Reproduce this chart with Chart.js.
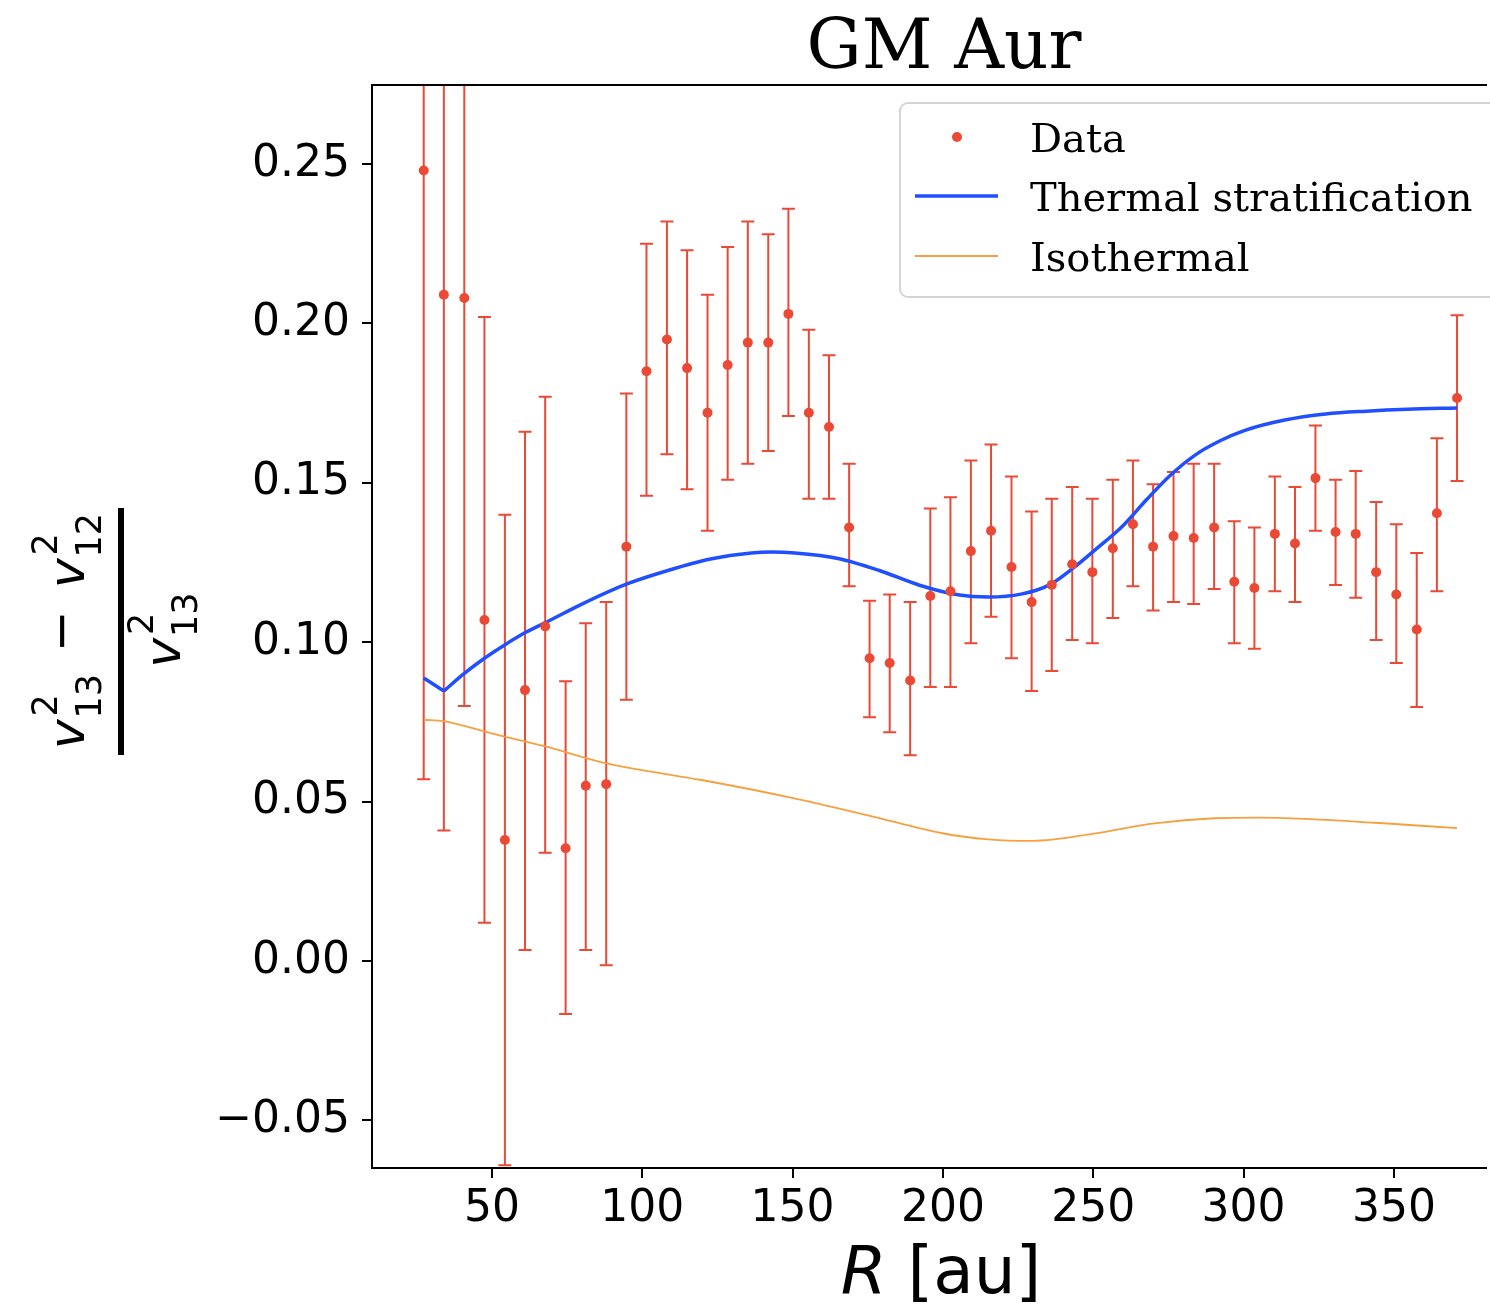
<!DOCTYPE html>
<html>
<head>
<meta charset="utf-8">
<script src="https://cdn.jsdelivr.net/npm/chart.js@4.4.0/dist/chart.umd.min.js"></script>
<style>
html, body { margin: 0; padding: 0; overflow: hidden; background: #fff; }
</style>
</head>
<body>
<canvas id="chart" width="1490" height="1312"></canvas>
<script>
// measured points (R in au) with lower / upper error bounds
const radius = [27.3, 34.0, 40.8, 47.5, 54.3, 61.0, 67.7, 74.5, 81.2, 88.0, 94.7, 101.4, 108.2, 114.9, 121.7, 128.4, 135.1, 141.9, 148.6, 155.4, 162.1, 168.8, 175.6, 182.3, 189.1, 195.8, 202.5, 209.3, 216.0, 222.8, 229.5, 236.2, 243.0, 249.7, 256.5, 263.2, 269.9, 276.7, 283.4, 290.2, 296.9, 303.6, 310.4, 317.1, 323.9, 330.6, 337.3, 344.1, 350.8, 357.6, 364.3, 371.0];
const ratio = [0.248, 0.209, 0.208, 0.107, 0.038, 0.085, 0.105, 0.0354, 0.055, 0.0555, 0.130, 0.185, 0.195, 0.186, 0.172, 0.187, 0.194, 0.194, 0.203, 0.172, 0.1675, 0.136, 0.095, 0.0935, 0.088, 0.1145, 0.116, 0.1286, 0.135, 0.1236, 0.1126, 0.118, 0.1245, 0.122, 0.1295, 0.137, 0.130, 0.1333, 0.1327, 0.136, 0.119, 0.117, 0.134, 0.131, 0.1515, 0.1346, 0.134, 0.122, 0.115, 0.104, 0.1405, 0.1766];
const ratioLow = [0.057, 0.041, 0.080, 0.012, -0.064, 0.0035, 0.034, -0.0166, 0.0035, -0.0013, 0.082, 0.146, 0.159, 0.148, 0.135, 0.151, 0.156, 0.160, 0.171, 0.145, 0.145, 0.1176, 0.0765, 0.0718, 0.0646, 0.086, 0.086, 0.0997, 0.108, 0.095, 0.0847, 0.091, 0.1007, 0.0997, 0.1076, 0.1176, 0.110, 0.1126, 0.112, 0.1167, 0.0997, 0.098, 0.116, 0.1126, 0.135, 0.118, 0.114, 0.1007, 0.0935, 0.0797, 0.116, 0.1506];
const ratioHigh = [0.440, 0.377, 0.336, 0.202, 0.140, 0.166, 0.177, 0.0878, 0.106, 0.1126, 0.178, 0.225, 0.232, 0.223, 0.209, 0.224, 0.232, 0.228, 0.236, 0.198, 0.190, 0.156, 0.113, 0.115, 0.1126, 0.142, 0.1455, 0.157, 0.162, 0.152, 0.141, 0.145, 0.1487, 0.145, 0.151, 0.157, 0.1496, 0.1534, 0.156, 0.156, 0.138, 0.136, 0.152, 0.1487, 0.168, 0.151, 0.1537, 0.144, 0.137, 0.128, 0.164, 0.2026];

// model curves (inner straight piece of the thermal curve kept apart so the kink stays sharp)
const thermalInnerR = [27.3, 34.0];
const thermalInnerV = [0.0888, 0.0847];
const thermalR = [34.0, 40.9, 47.5, 54.1, 61.4, 68.0, 81.3, 94.9, 108.8, 122.7, 136.3, 142.9, 150.8, 165.1, 178.6, 192.2, 205.5, 215.1, 226.0, 235.6, 243.5, 251.5, 259.8, 267.7, 276.0, 284.0, 292.2, 300.2, 313.7, 327.3, 340.9, 354.5, 371.0];
const thermalV = [0.0847, 0.0903, 0.0950, 0.0991, 0.1032, 0.1063, 0.1126, 0.1183, 0.1226, 0.1261, 0.1280, 0.1283, 0.1280, 0.1263, 0.1226, 0.1179, 0.1148, 0.1142, 0.1151, 0.1181, 0.1234, 0.1297, 0.1365, 0.1447, 0.1527, 0.1588, 0.1632, 0.1664, 0.1697, 0.1716, 0.1725, 0.1731, 0.1735];
const isoR = [27.3, 33.9, 49.5, 67.5, 87.6, 99.5, 119.7, 149.8, 174.7, 199.8, 215.1, 230.0, 250.2, 270.4, 290.2, 305.1, 320.4, 350.2, 371.0];
const isoV = [0.0757, 0.0753, 0.0715, 0.0674, 0.0621, 0.0600, 0.0568, 0.0512, 0.0458, 0.0401, 0.0382, 0.0377, 0.0400, 0.0432, 0.0448, 0.0450, 0.0446, 0.0430, 0.0417];

const xTicks = [50, 100, 150, 200, 250, 300, 350];
const yTicks = [-0.05, 0, 0.05, 0.10, 0.15, 0.20, 0.25];

const dataRed = '#ea4a35';
const thermalBlue = '#1f4fff';
const isoOrange = '#f7a040';

const pairs = (xs, ys) => xs.map((x, i) => ({x: x, y: ys[i]}));

const errorBars = {
    id: 'errorBars',
    beforeDatasetsDraw(chart) {
        const {ctx, chartArea: a, scales: {x, y}} = chart;
        ctx.save();
        ctx.beginPath();
        ctx.rect(a.left, a.top, a.right - a.left, a.bottom - a.top);
        ctx.clip();
        ctx.strokeStyle = dataRed;
        ctx.lineWidth = 2;
        radius.forEach((r, i) => {
            const px = x.getPixelForValue(r);
            const top = y.getPixelForValue(ratioHigh[i]);
            const bot = y.getPixelForValue(ratioLow[i]);
            ctx.beginPath();
            ctx.moveTo(px, top); ctx.lineTo(px, bot);
            ctx.moveTo(px - 6.5, top); ctx.lineTo(px + 6.5, top);
            ctx.moveTo(px - 6.5, bot); ctx.lineTo(px + 6.5, bot);
            ctx.stroke();
        });
        ctx.restore();
    }
};

// v with subscript and superscript, returns width used
function vTerm(ctx, x, base, sub) {
    ctx.font = 'italic 50px "DejaVu Sans"';
    ctx.fillText('v', x, base);
    const wv = ctx.measureText('v').width;
    ctx.font = '35px "DejaVu Sans"';
    ctx.fillText(sub, x + wv + 1, base + 17);
    ctx.fillText('2', x + wv + 3, base - 27);
    return wv + 1 + ctx.measureText(sub).width;
}

function termWidth(ctx, sub) {
    ctx.font = 'italic 50px "DejaVu Sans"';
    const wv = ctx.measureText('v').width;
    ctx.font = '35px "DejaVu Sans"';
    return wv + 1 + ctx.measureText(sub).width;
}

const decorations = {
    id: 'decorations',
    afterDraw(chart) {
        const {ctx, chartArea: a} = chart;
        ctx.save();
        // spines (right one lies outside the picture)
        ctx.strokeStyle = '#000';
        ctx.lineWidth = 2;
        ctx.beginPath();
        ctx.moveTo(a.right + 2, a.top);
        ctx.lineTo(a.left, a.top);
        ctx.lineTo(a.left, a.bottom);
        ctx.lineTo(a.right + 2, a.bottom);
        ctx.stroke();

        ctx.fillStyle = '#000';
        ctx.textBaseline = 'alphabetic';

        // title
        ctx.textAlign = 'center';
        ctx.font = '69px "DejaVu Serif"';
        ctx.fillText('GM Aur', 944, 68);

        // x axis title
        ctx.textAlign = 'left';
        ctx.font = 'italic 66px "DejaVu Sans"';
        const wR = ctx.measureText('R').width;
        ctx.font = '66px "DejaVu Sans"';
        const wRest = ctx.measureText(' [au]').width;
        const sx = 941 - (wR + wRest) / 2;
        ctx.font = 'italic 66px "DejaVu Sans"';
        ctx.fillText('R', sx, 1293);
        ctx.font = '66px "DejaVu Sans"';
        ctx.fillText(' [au]', sx + wR, 1293);

        // y axis title as fraction, rotated
        ctx.save();
        ctx.translate(121, 632);
        ctx.rotate(-Math.PI / 2);
        ctx.fillRect(-123, -3, 247, 6);
        const t1 = termWidth(ctx, '13'), t2 = termWidth(ctx, '12');
        ctx.font = '50px "DejaVu Sans"';
        const wm = ctx.measureText('\u2212').width;
        const gap = 22;
        const total = t1 + gap + wm + gap + t2;
        let nx = 1 - total / 2;
        nx += vTerm(ctx, nx, -37, '13') + gap;
        ctx.font = '50px "DejaVu Sans"';
        ctx.fillText('\u2212', nx, -43);
        nx += wm + gap;
        vTerm(ctx, nx, -37, '12');
        vTerm(ctx, 2 - t1 / 2, 59, '13');
        ctx.restore();

        // legend (runs past the right edge, as in the figure)
        ctx.beginPath();
        ctx.roundRect(900, 103, 620, 194, 8);
        ctx.fillStyle = 'rgba(255,255,255,0.85)';
        ctx.fill();
        ctx.strokeStyle = '#d4d4d4';
        ctx.lineWidth = 2;
        ctx.stroke();
        const ds = chart.data.datasets;
        ctx.font = '40px "DejaVu Serif"';
        ctx.fillStyle = '#000';
        ctx.fillText(ds[0].label, 1030, 152);
        ctx.fillText(ds[1].label, 1030, 211);
        ctx.fillText(ds[3].label, 1030, 271);
        ctx.fillStyle = dataRed;
        ctx.beginPath();
        ctx.arc(957, 137, 5, 0, Math.PI * 2);
        ctx.fill();
        ctx.strokeStyle = thermalBlue;
        ctx.lineWidth = 3.5;
        ctx.beginPath(); ctx.moveTo(915, 196); ctx.lineTo(998, 196); ctx.stroke();
        ctx.strokeStyle = isoOrange;
        ctx.lineWidth = 1.8;
        ctx.beginPath(); ctx.moveTo(915, 256); ctx.lineTo(998, 256); ctx.stroke();
        ctx.restore();
    }
};

const axisFont = {family: 'DejaVu Sans', size: 44};

new Chart(document.getElementById('chart').getContext('2d'), {
    type: 'scatter',
    data: {
        datasets: [{
            label: 'Data',
            data: pairs(radius, ratio),
            backgroundColor: dataRed,
            borderColor: dataRed,
            pointRadius: 5,
            pointBorderWidth: 0,
            order: 0
        }, {
            label: 'Thermal stratification',
            data: pairs(thermalR, thermalV),
            showLine: true,
            borderColor: thermalBlue,
            borderWidth: 3.5,
            pointRadius: 0,
            cubicInterpolationMode: 'monotone',
            order: 1
        }, {
            label: 'Thermal stratification (inner)',
            data: pairs(thermalInnerR, thermalInnerV),
            showLine: true,
            borderColor: thermalBlue,
            borderWidth: 3.5,
            pointRadius: 0,
            order: 1
        }, {
            label: 'Isothermal',
            data: pairs(isoR, isoV),
            showLine: true,
            borderColor: isoOrange,
            borderWidth: 1.8,
            pointRadius: 0,
            cubicInterpolationMode: 'monotone',
            order: 2
        }]
    },
    options: {
        responsive: false,
        animation: false,
        layout: {padding: {left: 0, right: 0, top: 85, bottom: 0}},
        plugins: {
            legend: {display: false},
            tooltip: {enabled: false},
            title: {display: false}
        },
        scales: {
            x: {
                type: 'linear',
                min: 10.1,
                max: 380.3,
                afterBuildTicks: scale => { scale.ticks = xTicks.map(v => ({value: v})); },
                afterFit: scale => { scale.height = 144; },
                grid: {drawOnChartArea: false, color: '#000', lineWidth: 2, tickLength: 10},
                border: {display: false},
                ticks: {color: '#000', font: axisFont, padding: 5, maxRotation: 0, callback: v => String(v)}
            },
            y: {
                type: 'linear',
                min: -0.0649,
                max: 0.2748,
                afterBuildTicks: scale => { scale.ticks = yTicks.map(v => ({value: v})); },
                afterFit: scale => { scale.width = 372; },
                grid: {drawOnChartArea: false, color: '#000', lineWidth: 2, tickLength: 10},
                border: {display: false},
                ticks: {color: '#000', font: axisFont, padding: 12, callback: v => (v < -1e-9 ? '\u2212' : '') + Math.abs(v).toFixed(2)}
            }
        }
    },
    plugins: [errorBars, decorations]
});
</script>
</body>
</html>
